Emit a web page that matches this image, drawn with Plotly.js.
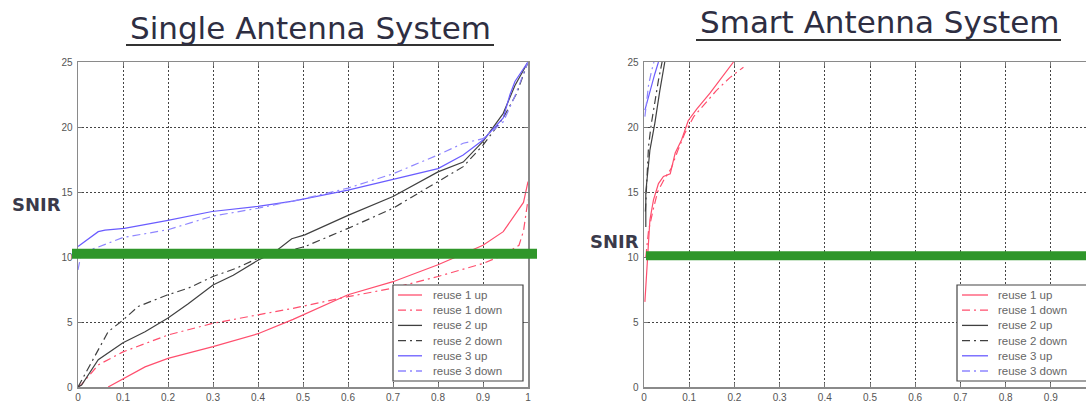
<!DOCTYPE html>
<html>
<head>
<meta charset="utf-8">
<script src="https://cdn.plot.ly/plotly-3.0.1.min.js"></script>
<style>
html,body{margin:0;padding:0;overflow:hidden;background:#fff;}
#chart{width:1096px;height:403px;}
</style>
</head>
<body>
<div id="chart"></div>
<script>
// ---------- data ----------
const seriesNames = ["reuse 1 up","reuse 1 down","reuse 2 up","reuse 2 down","reuse 3 up","reuse 3 down"];
const panelTitles = ["Single Antenna System","Smart Antenna System"];
const yLabel = "SNIR";
const thresholds = [10.25, 10.1];
const xTicks = [0,0.1,0.2,0.3,0.4,0.5,0.6,0.7,0.8,0.9,1];
const yTicks = [0,5,10,15,20,25];

// Single antenna system
const s_r1u_x = [0.067,0.1,0.149,0.2,0.3,0.4,0.478,0.6,0.7,0.8,0.9,0.945,0.971,0.99,1.0];
const s_r1u_y = [0,0.65,1.55,2.2,3.1,4.1,5.2,7.1,8.1,9.4,10.9,11.95,13.2,14.2,15.8];
const s_r1d_x = [0,0.008,0.045,0.1,0.2,0.3,0.4,0.478,0.6,0.7,0.8,0.9,0.945,0.98,0.99,1.0];
const s_r1d_y = [0,0.2,1.7,2.7,4.0,4.9,5.55,6.05,6.95,7.6,8.5,9.5,10.15,10.9,12.0,14.4];
const s_r2u_x = [0,0.008,0.045,0.1,0.149,0.2,0.245,0.3,0.345,0.4,0.438,0.475,0.504,0.6,0.7,0.8,0.856,0.9,0.945,0.971,1.0];
const s_r2u_y = [0,0.15,2.1,3.4,4.25,5.3,6.4,7.85,8.6,9.75,10.4,11.4,11.7,13.2,14.65,16.55,17.3,18.9,21.05,23.2,25];
const s_r2d_x = [0,0.03,0.067,0.1,0.134,0.2,0.245,0.3,0.349,0.4,0.504,0.6,0.7,0.8,0.856,0.9,0.945,0.975,1.0];
const s_r2d_y = [0,1.95,4.25,5.15,6.2,7.1,7.6,8.5,9.1,9.9,10.8,12.2,13.75,15.8,16.95,18.6,20.7,22.6,25];
const s_r3u_x = [0,0.045,0.06,0.103,0.197,0.298,0.4,0.478,0.6,0.7,0.8,0.856,0.9,0.945,0.96,0.971,1.0];
const s_r3u_y = [10.8,11.95,12.07,12.2,12.8,13.5,13.9,14.3,15.15,16.0,16.8,17.85,19.0,20.7,22.5,23.5,25];
const s_r3d_x = [0,0.008,0.04,0.1,0.2,0.3,0.4,0.504,0.6,0.7,0.8,0.856,0.9,0.945,0.97,1.0];
const s_r3d_y = [9.0,10.4,10.7,11.5,12.1,13.15,13.75,14.5,15.3,16.4,17.85,18.75,19.1,20.4,22.3,25];

// Smart antenna system
const m_r1u_x = [0.002,0.006,0.01,0.013,0.021,0.032,0.043,0.058,0.069,0.083,0.098,0.117,0.146,0.175,0.198];
const m_r1u_y = [6.55,8.75,10.8,12.85,14.4,15.65,16.2,16.4,18.0,19.0,20.5,21.4,22.6,23.9,25];
const m_r1d_x = [0.004,0.01,0.02,0.03,0.045,0.06,0.075,0.09,0.11,0.13,0.16,0.19,0.22];
const m_r1d_y = [10.0,12.0,13.6,15.0,16.0,16.8,18.2,19.5,20.8,21.6,22.8,23.8,24.6];
const m_r2u_x = [0.004,0.004,0.013,0.024,0.035,0.046];
const m_r2u_y = [12.3,15,18.2,20.3,22.8,25];
const m_r2d_x = [0.003,0.006,0.01,0.016,0.024,0.032,0.04];
const m_r2d_y = [13.5,16,18.5,20.2,22,23.6,25];
const m_r3u_x = [0.002,0.013,0.024,0.032];
const m_r3u_y = [21.3,22.8,24.1,25];
const m_r3d_x = [0.002,0.006,0.01,0.016,0.022];
const m_r3d_y = [20.8,22.0,23.2,24.2,25];

// ---------- styling ----------
const W = 1096, H = 403;
const colors = ["#ff4f6e","#ff4f6e","#404040","#404040","#6a5cff","#8f86ff"];
const dashes = ["solid","8px,4px,2px,4px","solid","8px,4px,2px,4px","solid","8px,4px,2px,4px"];

const single = [[s_r1u_x,s_r1u_y],[s_r1d_x,s_r1d_y],[s_r2u_x,s_r2u_y],[s_r2d_x,s_r2d_y],[s_r3u_x,s_r3u_y],[s_r3d_x,s_r3d_y]];
const smart = [[m_r1u_x,m_r1u_y],[m_r1d_x,m_r1d_y],[m_r2u_x,m_r2u_y],[m_r2d_x,m_r2d_y],[m_r3u_x,m_r3u_y],[m_r3d_x,m_r3d_y]];

const traces = [];
single.forEach((d,i)=>traces.push({x:d[0],y:d[1],type:'scatter',mode:'lines',name:seriesNames[i],
  xaxis:'x',yaxis:'y',showlegend:false,line:{color:colors[i],width:1.2,dash:dashes[i]}}));
smart.forEach((d,i)=>traces.push({x:d[0],y:d[1],type:'scatter',mode:'lines',name:seriesNames[i],
  xaxis:'x2',yaxis:'y2',showlegend:false,line:{color:colors[i],width:1.2,dash:dashes[i]}}));

const px = v => v / W;
const py = v => 1 - v / H;

const tickFont = {family:'Liberation Sans, Arial', size:10, color:'#555'};
const axisX = (dom, anchor) => ({domain:dom, anchor:anchor, range:[0,1], tickvals:xTicks,
  showgrid:true, gridcolor:'#444', griddash:'2px,2px', gridwidth:1, zeroline:false,
  showline:true, linecolor:'#8a8a8a', linewidth:1.5, mirror:'ticks',
  ticks:'inside', ticklen:4, tickcolor:'#777', tickfont:tickFont});
const axisY = (dom, anchor) => ({domain:dom, anchor:anchor, range:[0,25], tickvals:yTicks,
  showgrid:true, gridcolor:'#444', griddash:'2px,2px', gridwidth:1, zeroline:false,
  showline:true, linecolor:'#8a8a8a', linewidth:1.5, mirror:'ticks',
  ticks:'inside', ticklen:4, tickcolor:'#777', ticklabelstandoff:2, tickfont:tickFont});

const yDom = [1 - 387/H, 1 - 62/H];

const shapes = [
  {type:'line', xref:'paper', yref:'y', x0:px(72), x1:px(537), y0:thresholds[0], y1:thresholds[0],
   line:{color:'#2f962a', width:10}, layer:'above'},
  {type:'line', xref:'paper', yref:'y2', x0:px(646), x1:1, y0:thresholds[1], y1:thresholds[1],
   line:{color:'#2f962a', width:9}, layer:'above'},
  {type:'line', xref:'paper', yref:'paper', x0:px(126), x1:px(494), y0:py(45), y1:py(45),
   line:{color:'#333', width:2.2}},
  {type:'line', xref:'paper', yref:'paper', x0:px(696), x1:px(1061), y0:py(40), y1:py(40),
   line:{color:'#333', width:2.2}}
];
const annotations = [
  {text:panelTitles[0], xref:'paper', yref:'paper', x:px(310), y:py(28), showarrow:false,
   xanchor:'center', yanchor:'middle', font:{family:'DejaVu Sans', size:31, color:'#2e2e42'}},
  {text:panelTitles[1], xref:'paper', yref:'paper', x:px(879), y:py(22), showarrow:false,
   xanchor:'center', yanchor:'middle', font:{family:'DejaVu Sans', size:31, color:'#2e2e42'}},
  {text:'<b>' + yLabel + '</b>', xref:'paper', yref:'paper', x:px(36), y:py(204), showarrow:false,
   xanchor:'center', yanchor:'middle', font:{family:'DejaVu Sans', size:18, color:'#3a3a4a'}},
  {text:'<b>' + yLabel + '</b>', xref:'paper', yref:'paper', x:px(614), y:py(241), showarrow:false,
   xanchor:'center', yanchor:'middle', font:{family:'DejaVu Sans', size:18, color:'#3a3a4a'}}
];

// ---------- legends (one per panel) ----------
const legendBoxes = [{x0:393, x1:523, lineX0:398, lineX1:422, textX:431},
                     {x0:957, x1:1100, lineX0:962, lineX1:988, textX:996}];
const legTop = 285, legBottom = 381, rowY0 = 295, rowStep = 15.2;
legendBoxes.forEach(b=>{
  shapes.push({type:'rect', xref:'paper', yref:'paper', x0:px(b.x0), x1:px(b.x1), y0:py(legBottom), y1:py(legTop),
    fillcolor:'#fff', line:{color:'#444', width:1.2}, layer:'above'});
  seriesNames.forEach((name,i)=>{
    const yy = rowY0 + i*rowStep;
    shapes.push({type:'line', xref:'paper', yref:'paper', x0:px(b.lineX0), x1:px(b.lineX1), y0:py(yy), y1:py(yy),
      line:{color:colors[i], width:1.3, dash:dashes[i]}, layer:'above'});
    annotations.push({text:name, xref:'paper', yref:'paper', x:px(b.textX), y:py(yy), showarrow:false,
      xanchor:'left', yanchor:'middle', font:{family:'Liberation Sans, Arial', size:11.5, color:'#666'}});
  });
});

const layout = {
  width:W, height:H, margin:{l:0,r:0,t:0,b:0},
  paper_bgcolor:'#fff', plot_bgcolor:'#fff', showlegend:false,
  xaxis: axisX([px(78), px(528)], 'y'),
  yaxis: axisY(yDom, 'x'),
  xaxis2: axisX([px(644), 1], 'y2'),
  yaxis2: axisY(yDom, 'x2'),
  shapes: shapes,
  annotations: annotations
};

Plotly.newPlot('chart', traces, layout, {staticPlot:true, displayModeBar:false});
</script>
</body>
</html>
